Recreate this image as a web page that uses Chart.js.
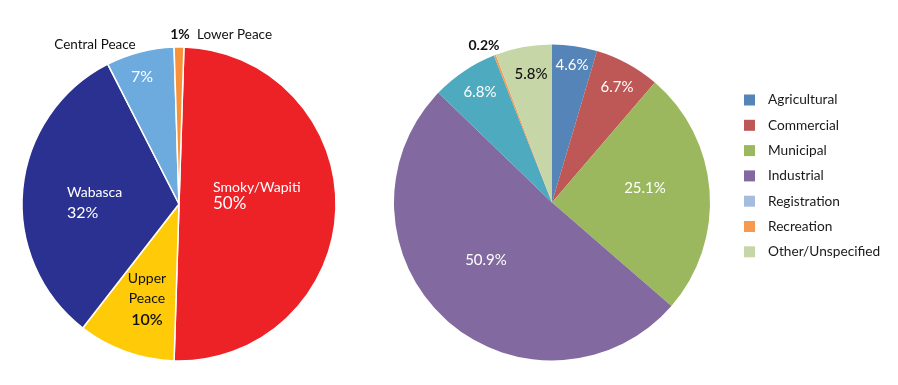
<!DOCTYPE html>
<html>
<head>
<meta charset="utf-8">
<script src="https://cdn.jsdelivr.net/npm/chart.js@4.4.0/dist/chart.umd.min.js"></script>
<style>
  html, body { margin: 0; padding: 0; background: #fff; }
  #wrap { position: relative; width: 898px; height: 385px; }
  #left { position: absolute; left: 0; top: 0; }
  #right { position: absolute; left: 360px; top: 0; }
</style>
</head>
<body>
<div id="wrap">
  <canvas id="left" width="360" height="385"></canvas>
  <canvas id="right" width="538" height="385"></canvas>
</div>
<script>
// Bacias (gráfico da esquerda)
const basins = ['Smoky/Wapiti', 'Upper Peace', 'Wabasca', 'Central Peace', 'Lower Peace']
const basinShares = [50, 10, 32, 7, 1]
const basinColors = ['#ec2227', '#ffcb08', '#2b3190', '#6dabdf', '#f7923a']

// Setores (gráfico da direita)
const sectors = ['Agricultural', 'Commercial', 'Municipal', 'Industrial', 'Registration', 'Recreation', 'Other/Unspecified']
const sectorShares = [4.6, 6.7, 25.1, 50.9, 6.8, 0.2, 5.8]
const sectorColors = ['#5584b8', '#be5856', '#9cb85e', '#826aa0', '#4eaabf', '#f59a4f', '#c7d6a6']
const sectorLegendColors = ['#5584b8', '#be5856', '#9cb85e', '#826aa0', '#a6bcdd', '#f59a4f', '#c7d6a6']

const FONT = 'Lato, "Open Sans", sans-serif'

// label lines: [slice, kind, dx, dy, align, color, size, weight]
// kind 'name' -> category text, 'pct' -> value with %
const basinLabelSpots = [
  [0, 'name', 34, -12, 'left', '#fff', 14, 400],
  [0, 'pct', 34, 5, 'left', '#fff', 17, 400],
  [1, 'Upper', -32, 79, 'center', '#111', 14, 400],
  [1, 'Peace', -32, 99, 'center', '#111', 14, 400],
  [1, 'pct', -32, 121, 'center', '#111', 16, 600],
  [2, 'name', -112, -7, 'left', '#fff', 14, 400],
  [2, 'pct', -112, 14, 'left', '#fff', 16, 400],
  [3, 'pct', -37, -122, 'center', '#fff', 16, 400],
  [3, 'name', -84, -155, 'center', '#111', 13.5, 400],
  [4, 'pct', 1, -165, 'center', '#111', 14, 700],
  [4, 'name', 18, -165, 'left', '#111', 13.5, 400],
]

const sectorLabelSpots = [
  [0, 'pct', 20, -133, 'center', '#fff', 15, 400],
  [1, 'pct', 65, -111, 'center', '#fff', 15, 400],
  [2, 'pct', 93, -10, 'center', '#fff', 15, 400],
  [3, 'pct', -66, 62, 'center', '#fff', 15, 400],
  [4, 'pct', -72, -106, 'center', '#fff', 15, 400],
  [5, 'pct', -68, -153, 'center', '#111', 14, 700],
  [6, 'pct', -21, -124, 'center', '#111', 15, 500],
]

function sliceLabels(spots) {
  return {
    id: 'sliceLabels',
    afterDatasetsDraw(chart) {
      const ctx = chart.ctx
      const arcs = chart.getDatasetMeta(0).data
      const values = chart.data.datasets[0].data
      ctx.save()
      ctx.textBaseline = 'alphabetic'
      spots.forEach(s => {
        const [i, kind, dx, dy, align, color, size, weight] = s
        const arc = arcs[i]
        let text = kind
        if (kind === 'name') text = chart.data.labels[i]
        if (kind === 'pct') text = values[i] + '%'
        ctx.font = weight + ' ' + size + 'px ' + FONT
        ctx.fillStyle = color
        ctx.textAlign = align
        ctx.fillText(text, arc.x + dx, arc.y + dy)
      })
      ctx.restore()
    }
  }
}

const sideLegend = {
  id: 'sideLegend',
  afterDraw(chart) {
    const ctx = chart.ctx
    ctx.save()
    ctx.font = '13.7px ' + FONT
    ctx.textBaseline = 'middle'
    ctx.textAlign = 'left'
    chart.data.labels.forEach((label, i) => {
      const y = 100 + i * 25.3
      ctx.fillStyle = sectorLegendColors[i]
      ctx.fillRect(384, y - 5.5, 11, 11)
      ctx.fillStyle = '#1a1a1a'
      ctx.fillText(label, 408, y)
    })
    ctx.restore()
  }
}

new Chart(document.getElementById('left'), {
  type: 'pie',
  data: {
    labels: basins,
    datasets: [{
      data: basinShares,
      backgroundColor: basinColors,
      borderColor: '#fff',
      borderWidth: 1.5,
    }]
  },
  options: {
    responsive: false,
    animation: false,
    rotation: 1.8,
    radius: 157,
    layout: { padding: { left: 0, right: 2, top: 23, bottom: 0 } },
    plugins: {
      legend: { display: false },
      tooltip: { enabled: false }
    }
  },
  plugins: [sliceLabels(basinLabelSpots)]
})

new Chart(document.getElementById('right'), {
  type: 'pie',
  data: {
    labels: sectors,
    datasets: [{
      data: sectorShares,
      backgroundColor: sectorColors,
      borderWidth: 0,
    }]
  },
  options: {
    responsive: false,
    animation: false,
    radius: 158,
    layout: { padding: { left: 0, right: 154, top: 20, bottom: 0 } },
    plugins: {
      legend: { display: false },
      tooltip: { enabled: false }
    }
  },
  plugins: [sliceLabels(sectorLabelSpots), sideLegend]
})
</script>
</body>
</html>
